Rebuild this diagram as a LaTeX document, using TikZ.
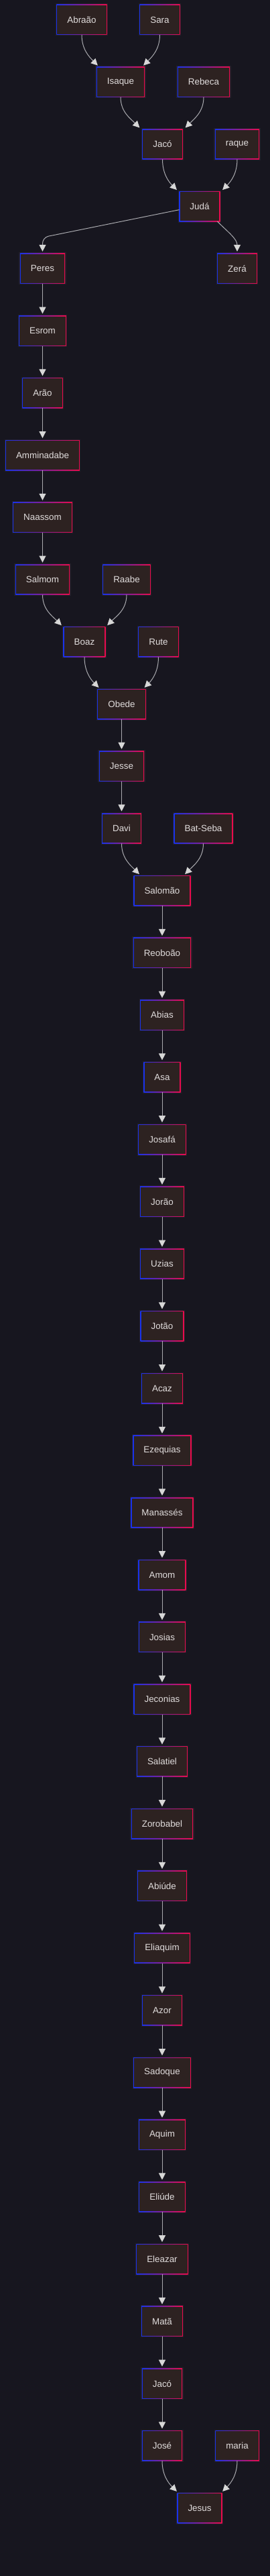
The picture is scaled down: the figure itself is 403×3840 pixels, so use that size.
\documentclass[tikz,border=0pt]{standalone}
\usepackage{fontspec}
\setmainfont{Liberation Sans}
\usetikzlibrary{arrows.meta,positioning}
\definecolor{bgnavy}{RGB}{23,22,31}
\definecolor{boxfill}{RGB}{45,34,33}
\definecolor{edgegray}{RGB}{170,170,175}
\definecolor{tipgray}{RGB}{215,215,215}
\definecolor{rimblue}{RGB}{25,50,235}
\definecolor{rimred}{RGB}{235,10,75}
\definecolor{namecol}{RGB}{225,221,221}
\definecolor{glowcol}{RGB}{110,95,110}

\begin{document}
\begin{tikzpicture}[
  x=1pt, y=1pt,
  node distance=47.725pt,
  person/.style={left color=rimblue, right color=rimred, text=namecol,
    font=\fontsize{13.4pt}{16pt}\selectfont, minimum height=45pt,
    inner xsep=16pt, inner ysep=0pt, outer sep=0pt,
    preaction={draw=glowcol, line width=3pt, opacity=0.15},
    path picture={\fill[boxfill] ([shift={(1.1pt,1.1pt)}]path picture bounding box.south west)
      rectangle ([shift={(-1.1pt,-1.1pt)}]path picture bounding box.north east);}},
  arr/.style={-{Triangle[length=10pt, width=10pt, color=tipgray]}, draw=edgegray, line width=1pt, shorten >=3pt},
]
  \useasboundingbox (0,0) rectangle (403,-3840);
  \fill[bgnavy] (0,0) rectangle (403,-3840);

  % patriarchs
  \node[person] (abraao) at (122,-29.5) {Abraão};
  \node[person] (sara) at (238.5,-29.5) {Sara};
  \node[person] (isaque) at (180,-122.2) {Isaque};
  \node[person] (rebeca) at (304,-122.2) {Rebeca};
  \node[person] (jaco) at (242.5,-215) {Jacó};
  \node[person] (raque) at (354,-215) {raque};
  \node[person] (juda) at (298,-307.7) {Judá};
  \node[person] (peres) at (63.5,-400.4) {Peres};
  \node[person] (zera) at (354,-400.4) {Zerá};

  % Peres line
  \node[person, below=of peres] (esrom) {Esrom};
  \node[person, below=of esrom] (arao) {Arão};
  \node[person, below=of arao] (amminadabe) {Amminadabe};
  \node[person, below=of amminadabe] (naassom) {Naassom};
  \node[person, below=of naassom] (salmom) {Salmom};
  \node[person] (raabe) at (189,-864) {Raabe};
  \node[person] (boaz) at (126,-956.8) {Boaz};
  \node[person] (rute) at (236.5,-956.8) {Rute};
  \node[person] (obede) at (181.5,-1049.5) {Obede};
  \node[person, below=of obede] (jesse) {Jesse};
  \node[person, below=of jesse] (davi) {Davi};
  \node[person] (batseba) at (303.5,-1234.9) {Bat-Seba};

  % kings and after
  \node[person] (salomao) at (242,-1327.7) {Salomão};
  \node[person, below=of salomao] (reoboao) {Reoboão};
  \node[person, below=of reoboao] (abias) {Abias};
  \node[person, below=of abias] (asa) {Asa};
  \node[person, below=of asa] (josafa) {Josafá};
  \node[person, below=of josafa] (jorao) {Jorão};
  \node[person, below=of jorao] (uzias) {Uzias};
  \node[person, below=of uzias] (jotao) {Jotão};
  \node[person, below=of jotao] (acaz) {Acaz};
  \node[person, below=of acaz] (ezequias) {Ezequias};
  \node[person, below=of ezequias] (manasses) {Manassés};
  \node[person, below=of manasses] (amom) {Amom};
  \node[person, below=of amom] (josias) {Josias};
  \node[person, below=of josias] (jeconias) {Jeconias};
  \node[person, below=of jeconias] (salatiel) {Salatiel};
  \node[person, below=of salatiel] (zorobabel) {Zorobabel};
  \node[person, below=of zorobabel] (abiude) {Abiúde};
  \node[person, below=of abiude] (eliaquim) {Eliaquim};
  \node[person, below=of eliaquim] (azor) {Azor};
  \node[person, below=of azor] (sadoque) {Sadoque};
  \node[person, below=of sadoque] (aquim) {Aquim};
  \node[person, below=of aquim] (eliude) {Eliúde};
  \node[person, below=of eliude] (eleazar) {Eleazar};
  \node[person, below=of eleazar] (mata) {Matã};
  \node[person, below=of mata] (jacopai) {Jacó};
  \node[person, below=of jacopai] (jose) {José};
  \node[person] (maria) at (354,-3645.8) {maria};
  \node[person] (jesus) at (298,-3738.5) {Jesus};

  % couples
  \draw[arr] (abraao.south) to[out=-90, in=135] ([xshift=-32pt]isaque.north);
  \draw[arr] (sara.south) to[out=-90, in=45] ([xshift=32pt]isaque.north);
  \draw[arr] (isaque.south) to[out=-90, in=135] ([xshift=-32pt]jaco.north);
  \draw[arr] (rebeca.south) to[out=-90, in=45] ([xshift=32pt]jaco.north);
  \draw[arr] (jaco.south) to[out=-90, in=135] ([xshift=-32pt]juda.north);
  \draw[arr] (raque.south) to[out=-90, in=45] ([xshift=32pt]juda.north);
  \draw[arr] (salmom.south) to[out=-90, in=135] ([xshift=-32pt]boaz.north);
  \draw[arr] (raabe.south) to[out=-90, in=45] ([xshift=32pt]boaz.north);
  \draw[arr] (boaz.south) to[out=-90, in=135] ([xshift=-32pt]obede.north);
  \draw[arr] (rute.south) to[out=-90, in=45] ([xshift=32pt]obede.north);
  \draw[arr] (davi.south) to[out=-90, in=135] ([xshift=-32pt]salomao.north);
  \draw[arr] (batseba.south) to[out=-90, in=45] ([xshift=32pt]salomao.north);
  \draw[arr] (jose.south) to[out=-90, in=135] ([xshift=-32pt]jesus.north);
  \draw[arr] (maria.south) to[out=-90, in=45] ([xshift=32pt]jesus.north);

  % sons of Juda
  \draw[arr, rounded corners=9pt] ([yshift=-5pt]juda.west) -- ([yshift=24pt]peres.north) -- (peres.north);
  \draw[arr] ([xshift=-4pt]juda.south east) to[out=-45, in=90] (zera.north);

  % single line
  \draw[arr] (peres) -- (esrom);
  \draw[arr] (esrom) -- (arao);
  \draw[arr] (arao) -- (amminadabe);
  \draw[arr] (amminadabe) -- (naassom);
  \draw[arr] (naassom) -- (salmom);
  \draw[arr] (obede) -- (jesse);
  \draw[arr] (jesse) -- (davi);
  \draw[arr] (salomao) -- (reoboao);
  \draw[arr] (reoboao) -- (abias);
  \draw[arr] (abias) -- (asa);
  \draw[arr] (asa) -- (josafa);
  \draw[arr] (josafa) -- (jorao);
  \draw[arr] (jorao) -- (uzias);
  \draw[arr] (uzias) -- (jotao);
  \draw[arr] (jotao) -- (acaz);
  \draw[arr] (acaz) -- (ezequias);
  \draw[arr] (ezequias) -- (manasses);
  \draw[arr] (manasses) -- (amom);
  \draw[arr] (amom) -- (josias);
  \draw[arr] (josias) -- (jeconias);
  \draw[arr] (jeconias) -- (salatiel);
  \draw[arr] (salatiel) -- (zorobabel);
  \draw[arr] (zorobabel) -- (abiude);
  \draw[arr] (abiude) -- (eliaquim);
  \draw[arr] (eliaquim) -- (azor);
  \draw[arr] (azor) -- (sadoque);
  \draw[arr] (sadoque) -- (aquim);
  \draw[arr] (aquim) -- (eliude);
  \draw[arr] (eliude) -- (eleazar);
  \draw[arr] (eleazar) -- (mata);
  \draw[arr] (mata) -- (jacopai);
  \draw[arr] (jacopai) -- (jose);
\end{tikzpicture}
\end{document}
